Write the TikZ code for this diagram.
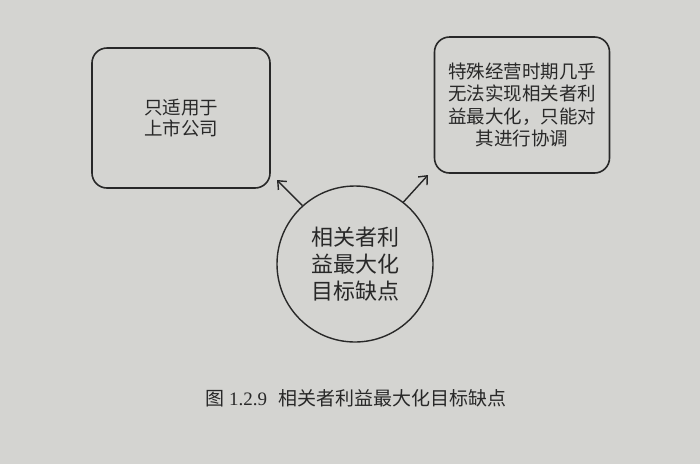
\documentclass[tikz,border=0pt]{standalone}
\usepackage{fontspec}
\setmainfont{Liberation Serif}
\newfontfamily\cjk{Noto Sans CJK SC}
\usetikzlibrary{arrows.meta}
\definecolor{paper}{RGB}{212,212,209}
\definecolor{ink}{RGB}{40,40,40}
\tikzset{
    textbox/.style={draw=ink, line width=1.6pt, rounded corners=15pt, align=center,
        text=ink, font=\cjk, inner sep=0pt},
    goalcircle/.style={draw=ink, line width=1.4pt, circle, minimum size=156pt, align=center,
        text=ink, inner sep=0pt},
    pointer/.style={draw=ink, line width=1.4pt, -{Straight Barb[length=7pt,width=12pt,line width=1.4pt]}},
}
\begin{document}
\begin{tikzpicture}[x=1pt,y=-1pt]
\fill[paper] (0,0) rectangle (700,464);
\useasboundingbox (0,0) rectangle (700,464);

% boxes
\node[textbox, minimum width=178pt, minimum height=140pt,
      font=\cjk\fontsize{18.5}{21.5}\selectfont] (listed) at (181,118) {只适用于\\上市公司};
\node[textbox, minimum width=175pt, minimum height=136pt,
      font=\cjk\fontsize{18.5}{22.5}\selectfont] (special) at (522,105)
      {特殊经营时期几乎\\无法实现相关者利\\益最大化，只能对\\其进行协调};

% goal
\node[goalcircle, font=\cjk\fontsize{22}{27}\selectfont] (goal) at (355,264) {相关者利\\益最大化\\目标缺点};

\coordinate (tipL) at (277,180);
\coordinate (tipR) at (428,175);
\draw[pointer] (goal.132) -- (tipL);
\draw[pointer] (goal.52) -- (tipR);

% caption
\node[text=ink, font=\fontsize{19}{22}\selectfont] (caption) at (356,398)
    {{\cjk 图} 1.2.9\hspace{0.6em}{\cjk 相关者利益最大化目标缺点}};
\end{tikzpicture}
\end{document}
